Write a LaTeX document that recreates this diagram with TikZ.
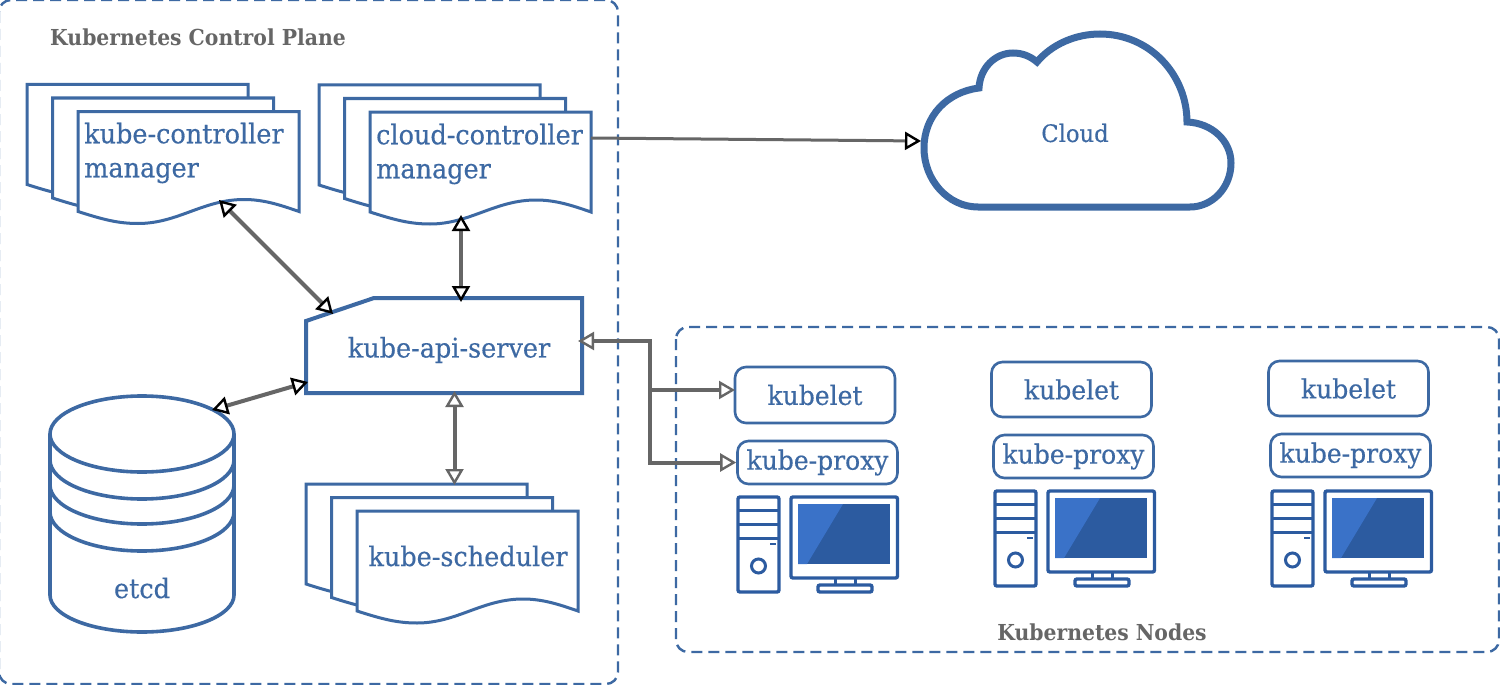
\documentclass[tikz,border=0pt]{standalone}
\usepackage{fontspec}
\usetikzlibrary{arrows.meta}
\newfontfamily\slab[FakeStretch=0.945,FakeBold=0.4]{DejaVu Serif}
\newfontfamily\slabt[FakeStretch=0.925]{DejaVu Serif}
\definecolor{kblue}{HTML}{3D69A3}
\definecolor{kdark}{HTML}{2C5BA0}
\definecolor{klight}{HTML}{3A72C8}
\definecolor{kgray}{HTML}{666666}
\definecolor{ktitle}{HTML}{666666}
\tikzset{
  x=1pt,y=-1pt,
  region/.style={draw=kblue,line width=2.4pt,dash pattern=on 11pt off 6pt,rounded corners=12pt},
  paper/.style={draw=kblue,line width=3pt,fill=white,line join=miter},
  label/.style={text=kblue,font=\slab\fontsize{27}{34}\selectfont,inner sep=0pt,align=left},
  smalllabel/.style={text=kblue,font=\slab\fontsize{24}{30}\selectfont,inner sep=0pt},
  titlelabel/.style={text=ktitle,font=\slabt\bfseries\fontsize{22}{24}\selectfont,inner sep=0pt},
  pill/.style={draw=kblue,line width=2.6pt,rounded corners=11pt,minimum width=160pt,inner sep=0pt,text=kblue,font=\slab\fontsize{26.5}{30}\selectfont},
  link/.style={draw=kgray,line width=4pt},
  thin link/.style={draw=kgray,line width=3pt},
  bb/.style={{Triangle[fill=white,color=black,length=16pt,width=18pt,line width=2.4pt]}-{Triangle[fill=white,color=black,length=16pt,width=18pt,line width=2.4pt]}},
  bg/.style={{Triangle[fill=white,color=kgray,length=16pt,width=18pt,line width=2.4pt]}-{Triangle[fill=white,color=kgray,length=16pt,width=18pt,line width=2.4pt]}},
  tb/.style={-{Triangle[fill=white,color=black,length=16pt,width=18pt,line width=2.4pt]}},
  tg/.style={-{Triangle[fill=white,color=kgray,length=16pt,width=18pt,line width=2.4pt]}},
  pcline/.style={draw=kdark,line width=3.4pt,rounded corners=2pt},
}
\newcommand{\onepage}[2]{%
  \begin{scope}[shift={(#1,#2)}]
  \path[paper] (0,0) -- (221,0) -- (221,100)
    .. controls (201,93) and (185,88) .. (166,88)
    .. controls (125,88) and (100,112) .. (60,112)
    .. controls (40,112) and (25,108) .. (0,100) -- cycle;
  \end{scope}}
\newcommand{\docstack}[2]{%
  \onepage{#1}{#2}\onepage{#1+25.5}{#2+13.5}\onepage{#1+51}{#2+27}}
\newcommand{\computer}[2]{%
  \begin{scope}[shift={(#1,#2)}]
    \draw[pcline] (0,0) rectangle (41,95);
    \draw[draw=kdark,line width=3pt] (0,13) -- (41,13) (0,27) -- (41,27) (0,41) -- (41,41);
    \draw[draw=kdark,line width=2pt] (32,47) -- (38,47);
    \draw[draw=kdark,line width=3pt] (20.5,69) circle[radius=7pt];
    \draw[pcline] (53,0) rectangle (159.5,81);
    \fill[kdark] (60,7) rectangle (152,67);
    \fill[klight] (60,7) -- (105,7) -- (69,67) -- (60,67) -- cycle;
    \draw[draw=kdark,line width=3pt] (97,81) -- (97,88) (117,81) -- (117,88);
    \draw[pcline] (80,88) rectangle (134,95);
  \end{scope}}
\begin{document}
\begin{tikzpicture}
\useasboundingbox (0,0) rectangle (1500,685);
\fill[white] (0,0) rectangle (1500,685);
% regions
\draw[region] (-1,0) rectangle (618,684);
\draw[region] (676,327) rectangle (1499,652);
\node[titlelabel,anchor=base west] (cptitle) at (50,46) {Kubernetes Control Plane};
\node[titlelabel,anchor=base] (ntitle) at (1102,640) {Kubernetes Nodes};
% document stacks
\docstack{27}{84.5}
\node[label,anchor=west] (kcm) at (84,153) {kube-controller\\manager};
\docstack{319}{85}
\node[label,anchor=west] (ccm) at (376,154) {cloud-controller\\manager};
\docstack{306}{484}
\node[label,anchor=center] (sched) at (468,556) {kube-scheduler};
% api server
\path[draw=kblue,line width=4pt,fill=white] (306,321) -- (374,298) -- (582,298) -- (582,393) -- (306,393) -- cycle;
\node[label,anchor=center] (api) at (449,350) {kube-api-server};
% etcd
\begin{scope}[draw=kblue,line width=3.6pt]
  \draw[fill=white] (50,434) -- (50,595) arc[start angle=180,end angle=0,x radius=92,y radius=37] -- (234,434);
  \draw (50,460) arc[start angle=180,end angle=0,x radius=92,y radius=39];
  \draw (50,485) arc[start angle=180,end angle=0,x radius=92,y radius=39];
  \draw (50,512) arc[start angle=180,end angle=0,x radius=92,y radius=39];
  \draw (142,434) ellipse[x radius=92,y radius=38];
\end{scope}
\node[label,anchor=center] (etcd) at (142,588) {etcd};
% cloud
\path[draw=kblue,line width=7pt,fill=white,line join=miter]
  (979,88) .. controls (980,68) and (995,53) .. (1013,53)
  .. controls (1022,53) and (1030,56) .. (1037,62)
  .. controls (1052,44) and (1076,34) .. (1100,34)
  .. controls (1150,34) and (1187,75) .. (1187,122)
  .. controls (1212,123) and (1231,141) .. (1231,163)
  .. controls (1231,188) and (1212,207) .. (1190,207)
  -- (978,207)
  .. controls (948,207) and (924,180) .. (924,148)
  .. controls (924,116) and (947,92) .. (979,88) -- cycle;
\node[smalllabel] (cloud) at (1075,133) {Cloud};
% worker nodes
\node[pill,minimum height=56pt] (kl1) at (815,395) {kubelet};
\node[pill,minimum height=43pt] (kp1) at (817.5,462.5) {kube-proxy};
\node[pill,minimum height=55pt] (kl2) at (1071.5,389.5) {kubelet};
\node[pill,minimum height=43pt] (kp2) at (1073.5,456.5) {kube-proxy};
\node[pill,minimum height=55pt] (kl3) at (1348.5,388.5) {kubelet};
\node[pill,minimum height=43pt] (kp3) at (1350.5,455.5) {kube-proxy};
\computer{738}{497}
\computer{995}{491}
\computer{1272}{491}
% connector ends
\coordinate (kcmb) at (219,200);
\coordinate (apinw) at (333,314);
\coordinate (ccmb) at (461,215);
\coordinate (apin) at (461,302);
\coordinate (ccme) at (591,138);
\coordinate (cloudw) at (921,141);
\coordinate (etcdne) at (212,410);
\coordinate (apisw) at (308,382);
\coordinate (apis) at (454.5,391);
\coordinate (schedn) at (454.5,485);
\coordinate (apie) at (578,341);
\coordinate (bend) at (650,341);
\coordinate (bus) at (650,390);
\coordinate (kl1in) at (735,390);
% connectors
\draw[link,bb] (kcmb) -- (apinw);
\draw[link,bb] (ccmb) -- (apin);
\draw[thin link,tb] (ccme) -- (cloudw);
\draw[link,bb] (etcdne) -- (apisw);
\draw[link,bg] (apis) -- (schedn);
\draw[link,tg] (bus) -- (kl1in);
\draw[link,bg] (apie) -- (bend) -- (bend |- kp1.west) -- (kp1.west);
\end{tikzpicture}
\end{document}
